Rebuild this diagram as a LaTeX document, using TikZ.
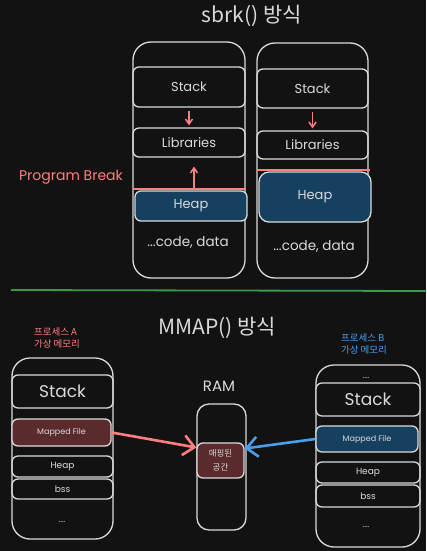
\documentclass[tikz,border=0pt]{standalone}
\usepackage{fontspec}
\setmainfont{Poppins}
\newfontfamily\kr{Noto Sans CJK KR}
\usetikzlibrary{arrows.meta,shapes}
\definecolor{bg}{HTML}{121212}
\definecolor{ink}{HTML}{DADADA}
\definecolor{brk}{HTML}{FF7F7F}
\definecolor{heapblue}{HTML}{16405F}
\definecolor{mapred}{HTML}{5A2A2C}
\definecolor{linkblue}{HTML}{4A9EEA}
\definecolor{sepgreen}{HTML}{3A9A48}
\tikzstyle{mem}=[draw=ink,line width=1.3pt,rounded corners=18pt,inner sep=0pt]
\tikzstyle{seg}=[draw=ink,line width=1.3pt,rounded corners=6pt,text=ink,inner sep=0pt]
\tikzstyle{growarrow}=[draw=brk,line width=1.5pt,-{Straight Barb[length=5pt,width=7pt]}]
\tikzstyle{maplink}=[line width=2.6pt,-{Straight Barb[length=11pt,width=20pt]}]
\tikzstyle{fnt}=[font=\fontsize{#1}{#1}\selectfont]

\begin{document}
\begin{tikzpicture}[x=1pt,y=-1pt]
      \fill[bg] (0,0) rectangle (426,551);
      \useasboundingbox (0,0) rectangle (426,551);
      % sbrk
      \node[text=ink,font=\kr\fontsize{21}{21}\selectfont] (t1) at (252,16) {sbrk() 방식};
      \node[mem,minimum width=112pt,minimum height=236pt] (vmL) at (189,160) {};
      \node[seg,fnt=13,minimum width=112pt,minimum height=40pt] (stackL) at (189,87) {Stack};
      \node[seg,fnt=13,minimum width=112pt,minimum height=29pt] (libL) at (189,142.5) {Libraries};
      \node[seg,fnt=13,fill=heapblue,minimum width=112pt,minimum height=30pt] (heapL) at (191,206) {Heap};
      \node[text=ink,fnt=13.5] (codeL) at (188,242) {...code, data};
      \node[mem,minimum width=111pt,minimum height=235pt] (vmR) at (312.5,160.5) {};
      \node[seg,fnt=13,minimum width=111pt,minimum height=39pt] (stackR) at (312.5,88.5) {Stack};
      \node[seg,fnt=13,minimum width=111pt,minimum height=28pt] (libR) at (312.5,145) {Libraries};
      \node[seg,fnt=13,fill=heapblue,rounded corners=10pt,minimum width=112pt,minimum height=50pt] (heapR) at (315,197) {Heap};
      \node[text=ink,fnt=13.5] (codeR) at (314,246) {...code, data};
      \coordinate (bkL1) at (133,189);
      \coordinate (bkL2) at (246,189);
      \coordinate (bkR1) at (257,170);
      \coordinate (bkR2) at (370,170);
      \coordinate (upL) at (194,189);
      \node[text=brk,fnt=14] (brkLbl) at (71,177) {Program Break};
      \draw[brk,line width=1.8pt] (bkL1) -- (bkL2);
      \draw[brk,line width=1.8pt] (bkR1) -- (bkR2);
      \draw[growarrow,shorten <=3pt,shorten >=2pt] (stackL) -- (libL);
      \draw[growarrow,shorten <=3pt,shorten >=2pt] (stackR) -- (libR);
      \draw[growarrow,shorten >=9pt] (upL) -- (upL |- libL.south);
      \draw[sepgreen,line width=1.8pt] (11,290) -- (426,291);
      % mmap
      \node[text=ink,font=\kr\fontsize{21}{21}\selectfont] (t2) at (217,328) {MMAP() 방식};
      \node[text=brk,align=left,font=\kr\fontsize{9.5}{12}\selectfont] (lblA) at (57,338) {프로세스 A\\가상 메모리};
      \node[mem,minimum width=101pt,minimum height=181pt] (vmA) at (62.5,448.5) {};
      \node[seg,fnt=17,minimum width=101pt,minimum height=33pt] (stackA) at (62.5,391.5) {Stack};
      \node[seg,fnt=8,fill=mapred,minimum width=99pt,minimum height=27pt] (mapA) at (61.5,432.5) {Mapped File};
      \node[seg,fnt=9,minimum width=101pt,minimum height=21pt] (heapA) at (62.5,466.5) {Heap};
      \node[seg,fnt=9,minimum width=101pt,minimum height=20pt] (bssA) at (62.5,489) {bss};
      \node[text=ink,fnt=8] (dotsA) at (62,522) {....};
      \node[text=ink,fnt=15] (ramLbl) at (219,386) {RAM};
      \node[mem,rounded corners=12pt,minimum width=49pt,minimum height=126pt] (ram) at (221.5,467) {};
      \node[seg,fill=mapred,align=center,font=\kr\fontsize{8.5}{14}\selectfont,minimum width=47pt,minimum height=35pt] (ramMap) at (220.5,460.5) {매핑된\\공간};
      \node[text=linkblue,align=left,font=\kr\fontsize{9.5}{12}\selectfont] (lblB) at (364,344) {프로세스 B\\가상 메모리};
      \node[mem,minimum width=104pt,minimum height=182pt] (vmB) at (368,456) {};
      \node[text=ink,fnt=8] (dotsB) at (366,378) {....};
      \node[seg,fill=bg,fnt=17,minimum width=104pt,minimum height=33pt] (stackB) at (368,399.5) {Stack};
      \node[seg,fnt=8,fill=heapblue,minimum width=102pt,minimum height=26pt] (mapB) at (367,439) {Mapped File};
      \node[seg,fnt=9,minimum width=104pt,minimum height=21pt] (heapB) at (368,472.5) {Heap};
      \node[seg,fnt=9,minimum width=104pt,minimum height=22pt] (bssB) at (368,496) {bss};
      \node[text=ink,fnt=8] (dotsB2) at (366,527) {....};
      \draw[maplink,brk] (mapA.east) -- ([yshift=13pt]ramMap.west);
      \draw[maplink,linkblue] (mapB.west) -- ([yshift=12pt]ramMap.east);
    \end{tikzpicture}
\end{document}
